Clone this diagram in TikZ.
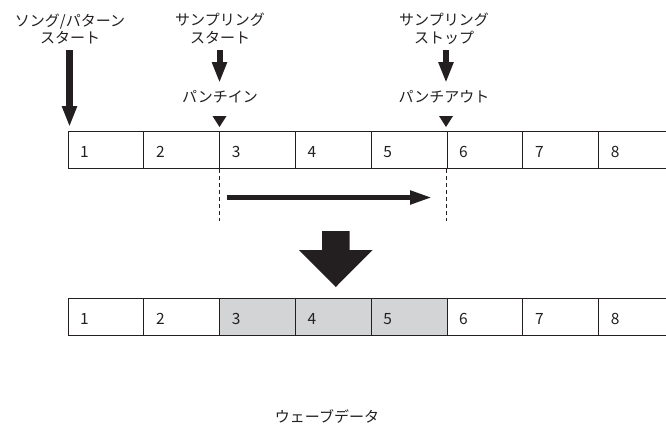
\documentclass[tikz,border=0pt]{standalone}
\usepackage{fontspec}
\setmainfont{Noto Sans CJK JP}
\usetikzlibrary{arrows.meta}
\definecolor{ink}{RGB}{35,31,32}
\definecolor{cellgray}{RGB}{211,212,214}
\begin{document}
\begin{tikzpicture}[x=1pt,y=-1pt,
  cell/.style={draw=ink,line width=1.1pt,minimum width=75.8pt,minimum height=37pt,inner sep=0pt,anchor=north west},
  num/.style={anchor=base west,inner sep=0pt,font=\fontsize{15.5}{17}\selectfont,text=ink},
  lbl/.style={inner sep=0pt,font=\fontsize{15}{17}\selectfont,text=ink,anchor=base},
  bigarrow/.style={draw=ink,line width=6.5pt,-{Triangle[length=21pt,width=14pt]}},
  smallarrow/.style={draw=ink,line width=6pt,-{Triangle[length=21pt,width=14pt]}},
  marker/.style={fill=ink},
  guide/.style={draw=ink,line width=0.8pt,dash pattern=on 4pt off 3pt}
]
\useasboundingbox (0,0) rectangle (666,424);
% top row
\foreach \i in {1,...,8}{
  \node[cell] (c\i) at ({67.5+75.8*(\i-1)},131) {};
  \node[num] (tc\i) at ([xshift=12.5pt]c\i.west |- 0,157) {\i};
}
% bottom row
\foreach \i in {1,...,8}{
  \ifnum\i>2 \ifnum\i<6
    \node[cell,fill=cellgray] (d\i) at ({67.5+75.8*(\i-1)},298) {};
  \else
    \node[cell] (d\i) at ({67.5+75.8*(\i-1)},298) {};
  \fi\else
    \node[cell] (d\i) at ({67.5+75.8*(\i-1)},298) {};
  \fi
  \node[num] (td\i) at ([xshift=12.5pt]d\i.west |- 0,324) {\i};
}
% labels
\node[lbl] (song1) at (70,26.7) {ソング/パターン};
\node[lbl] (song2) at (70,43.7) {スタート};
\node[lbl] (ss1) at (220,25.7) {サンプリング};
\node[lbl] (ss2) at (220,43.7) {スタート};
\node[lbl] (se1) at (444,25.7) {サンプリング};
\node[lbl] (se2) at (444,43.7) {ストップ};
\node[lbl] (pin) at (220,102) {パンチイン};
\node[lbl] (pout) at (444,102) {パンチアウト};
\node[lbl] (wave) at (327,422.5) {ウェーブデータ};
% vertical arrows
\coordinate (a1s) at (69.5,50);
\coordinate (a1e) at (69.5,127);
\draw[bigarrow] (a1s) -- (a1e);
\coordinate (a2s) at (219.5,50);
\coordinate (a2e) at (219.5,83);
\draw[smallarrow] (a2s) -- (a2e);
\coordinate (a3s) at (446,50);
\coordinate (a3e) at (446,83);
\draw[smallarrow] (a3s) -- (a3e);
% markers
\fill[marker] (212.5,116) -- (226.5,116) -- (219.5,127) -- cycle;
\fill[marker] (439,116) -- (453,116) -- (446,127) -- cycle;
% dashed guides
\draw[guide] (c3.south west) -- ++(0,52);
\draw[guide] (c6.south west) -- ++(0,52);
% horizontal arrow
\coordinate (hs) at (227,197.5);
\coordinate (he) at (432,197.5);
\draw[draw=ink,line width=5pt,-{Triangle[length=22pt,width=13pt]}] (hs) -- (he);
% big down arrow
\fill[ink] (322,231) -- (349.5,231) -- (349.5,250) -- (372.5,250) -- (335.75,287) -- (299,250) -- (322,250) -- cycle;
\end{tikzpicture}
\end{document}
